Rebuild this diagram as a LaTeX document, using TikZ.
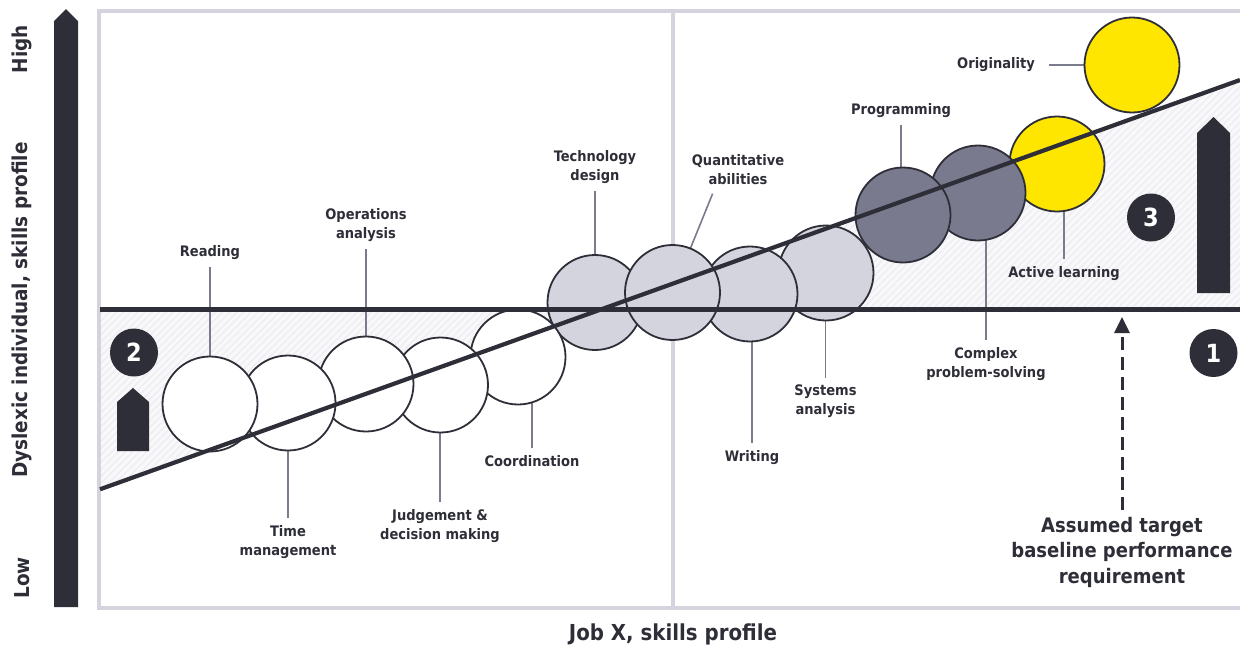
\documentclass[tikz,border=0pt]{standalone}
\usepackage{fontspec}
\setmainfont{DejaVu Sans Condensed}
\usetikzlibrary{patterns.meta,arrows.meta}
\definecolor{ink}{HTML}{2E2E38}
\definecolor{framec}{HTML}{D4D3DE}
\definecolor{lgray}{HTML}{D4D4DE}
\definecolor{dgray}{HTML}{7A7A8F}
\definecolor{eyy}{HTML}{FFE600}
\definecolor{connc}{HTML}{7B7B8E}
\definecolor{hatchc}{HTML}{EFEFF3}
\definecolor{hatchbg}{HTML}{F9F9FB}
\pgfdeclarelayer{bg}
\pgfdeclarelayer{fg}
\pgfsetlayers{bg,main,fg}
\begin{document}
\begin{tikzpicture}[x=1pt,y=-1pt,
  skill/.style={circle,draw=ink,line width=1.8pt,minimum size=95pt,inner sep=0pt},
  wskill/.style={skill,fill=white},
  gskill/.style={skill,fill=lgray},
  dskill/.style={skill,fill=dgray},
  yskill/.style={skill,fill=eyy},
  lab/.style={font=\bfseries\fontsize{14.5}{19}\selectfont,text=ink,align=center,inner xsep=2pt,inner ysep=0pt},
  conn/.style={draw=connc,line width=1.6pt},
  connup/.style={conn,shorten <=7pt},
  badge/.style={circle,fill=ink,text=white,minimum size=48pt,inner sep=0pt,font=\bfseries\fontsize{25}{25}\selectfont},
  axislab/.style={rotate=90,font=\bfseries\fontsize{20.5}{20.5}\selectfont,text=ink},
  mainline/.style={draw=ink,line width=4.2pt},
]
\useasboundingbox (0,0) rectangle (1240,648);

% hatched regions
\begin{pgfonlayer}{bg}
\fill[hatchbg] (100,309.5) -- (100,489.3) -- (601,309.5) -- cycle;
\fill[hatchbg] (601,309.5) -- (1240,309.5) -- (1240,80) -- cycle;
\fill[pattern={Lines[angle=45,distance=5pt,line width=1.6pt]},pattern color=hatchc] (100,309.5) -- (100,489.3) -- (601,309.5) -- cycle;
\fill[pattern={Lines[angle=45,distance=5pt,line width=1.6pt]},pattern color=hatchc] (601,309.5) -- (1240,309.5) -- (1240,80) -- cycle;
% frame
\draw[framec,line width=3.5pt] (1250,11) -- (99,11) -- (99,608) -- (1250,608);
\draw[framec,line width=3.5pt] (673,11) -- (673,608);
\end{pgfonlayer}

% left axis
\fill[ink] (54,607) -- (54,21) -- (66,9) -- (78,21) -- (78,607) -- cycle;
\node[axislab] (high) at (22,49) {High};
\node[axislab] (ylab) at (22,310) {Dyslexic individual, skills profile};
\node[axislab] (low) at (22,578) {Low};
\node[font=\bfseries\fontsize{22}{22}\selectfont,text=ink] (xlab) at (673,634) {Job X, skills profile};

% skill circles (drawn right to left)
\node[yskill] (orig) at (1132,65) {};
\node[yskill] (act) at (1057,164) {};
\node[dskill] (cplx) at (978,193) {};
\node[dskill] (prog) at (903,215) {};
\node[gskill] (sys) at (826,273) {};
\node[gskill] (writ) at (750,294) {};
\node[gskill] (tech) at (595,302.5) {};
\node[gskill] (quant) at (672.5,292.5) {};
\node[wskill] (coord) at (518,357) {};
\node[wskill] (judg) at (440.5,385) {};
\node[wskill] (ops) at (366,384) {};
\node[wskill] (time) at (288,403) {};
\node[wskill] (read) at (210,404) {};

% labels
\node[lab] (readL) at (210,253) {Reading};
\node[lab] (opsL) at (366,225.5) {Operations\\analysis};
\node[lab] (techL) at (595,167) {Technology\\design};
\node[lab] (quantL) at (738,170) {Quantitative\\abilities};
\node[lab] (progL) at (901,111) {Programming};
\node[lab] (origL) at (996,65) {Originality};
\node[lab] (timeL) at (288,542) {Time\\management};
\node[lab] (judgL) at (440,526) {Judgement \&\\decision making};
\node[lab] (coordL) at (532,461) {Coordination};
\node[lab] (writL) at (752,457.5) {Writing};
\node[lab] (sysL) at (825.5,401.5) {Systems\\analysis};
\node[lab] (cplxL) at (986,364) {Complex\\problem-solving};
\node[lab] (actL) at (1064,273.5) {Active learning};

% connectors
\begin{pgfonlayer}{bg}
\draw[connup] (readL.south) -- (readL.south |- read.center);
\draw[connup] (opsL.south) -- (opsL.south |- ops.center);
\draw[connup] (techL.south) -- (techL.south |- tech.center);
\draw[conn,shorten <=9pt] ([xshift=-22pt]quantL.south) -- (quant.center);
\draw[connup] (progL.south) -- (progL.south |- prog.center);
\draw[conn,shorten <=12pt] (origL.east) -- (orig.center);
\draw[connup] (timeL.north) -- (timeL.north |- time.center);
\draw[connup] (judgL.north) -- (judgL.north |- judg.center);
\draw[connup] (coordL.north) -- (coordL.north |- coord.center);
\draw[connup] (writL.north) -- (writL.north |- writ.center);
\draw[connup] (sysL.north) -- (sysL.north |- sys.center);
\draw[connup] (cplxL.north) -- (cplxL.north |- cplx.center);
\draw[connup] (actL.north) -- (actL.north |- act.center);
\end{pgfonlayer}

% main lines
\begin{pgfonlayer}{fg}
\coordinate (hl) at (100,309.5);
\coordinate (hr) at (1240,309.5);
\coordinate (dl) at (100,489.3);
\coordinate (dr) at (1240,80);
\draw[mainline] (hl) -- (hr);
\draw[mainline] (dl) -- (dr);
\end{pgfonlayer}

% badges and arrows
\node[badge] (b2) at (134,352.5) {2};
\node[badge] (b3) at (1151,217.5) {3};
\node[badge] (b1) at (1213.5,353) {1};
\fill[ink] (117,451) -- (117,402) -- (133,388) -- (149,402) -- (149,451) -- cycle;
\fill[ink] (1197,293) -- (1197,133) -- (1213.5,117) -- (1230,133) -- (1230,293) -- cycle;

% target
\node[font=\bfseries\fontsize{20}{25.5}\selectfont,text=ink,align=center,inner sep=0pt] (target) at (1122,552) {Assumed target\\baseline performance\\requirement};
\coordinate (tgt) at (1122,317);
\draw[ink,line width=3pt,dash pattern=on 13pt off 7pt,shorten <=7pt,-{Triangle[width=15pt,length=16pt]}] (target.north) -- (tgt);
\end{tikzpicture}
\end{document}
